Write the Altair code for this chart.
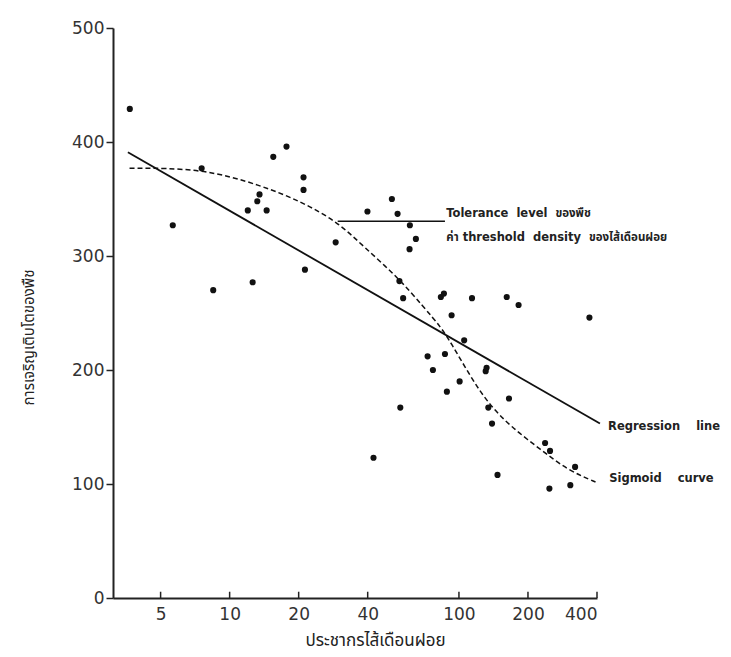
import altair as alt
import pandas as pd

# Scatter data: nematode population vs plant growth
pop = [3.67, 5.65, 7.55, 8.48, 12.0, 12.6, 13.2, 13.5, 14.5, 15.5, 17.7, 21.0, 21.0, 21.3,
       29.0, 39.9, 42.4, 51.0, 54.0, 55.0, 55.5, 57.1, 60.9, 61.1, 64.9, 73.0, 77.0, 83.4,
       86.0, 86.9, 88.6, 92.9, 100.7, 105.4, 114, 130.8, 132, 134.3, 139.4, 147.3, 161.6,
       165.3, 182, 237.5, 248, 249.6, 306, 321, 370.7]
growth = [429, 327, 377, 270, 340, 277, 348, 354, 340, 387, 396, 369, 358, 288,
          312, 339, 123, 350, 337, 278, 167, 263, 306, 327, 315, 212, 200, 264,
          267, 214, 181, 248, 190, 226, 263, 199, 202, 167, 153, 108, 264,
          175, 257, 136, 96, 129, 99, 115, 246]

# Regression line end points
reg_x = [3.6, 412]
reg_y = [391, 153]

# Sigmoid curve
sig_x = [3.66, 7.55, 13.7, 20.4, 29.6, 38.5, 54.0, 70.3, 83.4, 92.2, 112.5, 133.7, 168.7, 228, 298.8, 402]
sig_y = [377, 377, 362, 348, 330, 308, 281.6, 255, 237.7, 224, 194, 171, 150, 130, 112, 101]

# Tolerance level pointer
tol_x = [29.6, 86.9]
tol_y = [330.5, 330.5]

x_ticks = [5, 10, 20, 40, 100, 200, 400]
y_ticks = [0, 100, 200, 300, 400, 500]

S = "\u00a0\u00a0"
ann_text = ["Tolerance" + S + "level" + S + "ของพืช",
            "ค่า threshold" + S + "density" + S + "ของไส้เดือนฝอย",
            "Regression" + S + S + "line", "Sigmoid" + S + S + "curve"]
ann_x = [88, 88, 447, 452]
ann_y = [337, 316, 150, 104]

LABEL_FONT = "DejaVu Sans"
THAI_FONT = "Noto Sans Thai, Noto Sans, sans-serif"
ANN_FONT = "DejaVu Sans, Noto Sans Thai, sans-serif"

xscale = alt.Scale(type="log", domain=[3.1, 400], nice=False)
yscale = alt.Scale(domain=[0, 500], nice=False)

pts = pd.DataFrame({"x": pop, "y": growth})
reg = pd.DataFrame({"x": reg_x, "y": reg_y})
sig = pd.DataFrame({"x": sig_x, "y": sig_y})
tol = pd.DataFrame({"x": tol_x, "y": tol_y})
ann = pd.DataFrame({"x": ann_x, "y": ann_y, "t": ann_text})
xt = pd.DataFrame({"x": x_ticks, "y0": [0] * len(x_ticks), "y1": [5.5] * len(x_ticks)})

base_x = alt.X("x:Q", scale=xscale,
               axis=alt.Axis(values=x_ticks, format="d", title="ประชากรไส้เดือนฝอย",
                             tickSize=0, labelPadding=8, labelFontSize=17, labelFont=LABEL_FONT,
                             labelColor="#333", domainColor="#222", domainWidth=2,
                             grid=False, titleFont=THAI_FONT, titleFontSize=17,
                             titleFontWeight="normal", titleColor="#222",
                             titleX=262, titleY=42, titleBaseline="middle"))
base_y = alt.Y("y:Q", scale=yscale,
               axis=alt.Axis(values=y_ticks, title="การเจริญเติบโตของพืช",
                             tickSize=7, tickWidth=1.5, tickColor="#222", labelPadding=2,
                             labelFontSize=17, labelFont=LABEL_FONT, labelColor="#333",
                             domainColor="#222", domainWidth=2, grid=False,
                             titleFont=THAI_FONT, titleFontSize=15, titleFontWeight="normal",
                             titleColor="#222", titleX=-85, titleY=309, titleBaseline="middle",
                             titleAngle=270))

points = alt.Chart(pts).mark_circle(size=38, color="#111", opacity=1).encode(x=base_x, y=base_y)

regline = alt.Chart(reg).mark_line(color="#111", strokeWidth=1.8).encode(
    x=alt.X("x:Q", scale=xscale), y=alt.Y("y:Q", scale=yscale))

sigline = alt.Chart(sig).mark_line(color="#111", strokeWidth=1.5, strokeDash=[5, 3],
                                   interpolate="basis").encode(
    x=alt.X("x:Q", scale=xscale), y=alt.Y("y:Q", scale=yscale))

tolline = alt.Chart(tol).mark_line(color="#111", strokeWidth=1.6).encode(
    x=alt.X("x:Q", scale=xscale), y=alt.Y("y:Q", scale=yscale))

xticks = alt.Chart(xt).mark_rule(color="#222", strokeWidth=1.5).encode(
    x=alt.X("x:Q", scale=xscale), y=alt.Y("y0:Q", scale=yscale), y2="y1:Q")

labels = alt.Chart(ann).mark_text(align="left", baseline="middle", fontSize=11.5,
                                  fontWeight="bold", font=ANN_FONT, color="#222").encode(
    x=alt.X("x:Q", scale=xscale), y=alt.Y("y:Q", scale=yscale), text="t:N")

chart = alt.layer(points, regline, sigline, tolline, xticks, labels).properties(
    width=484, height=570,
    background="white",
    autosize=alt.AutoSizeParams(type="none"),
    padding={"left": 105, "top": 20, "right": 126, "bottom": 58},
).configure_view(stroke=None)

chart.save("out.html", embed_options={"renderer": "svg", "actions": False})
